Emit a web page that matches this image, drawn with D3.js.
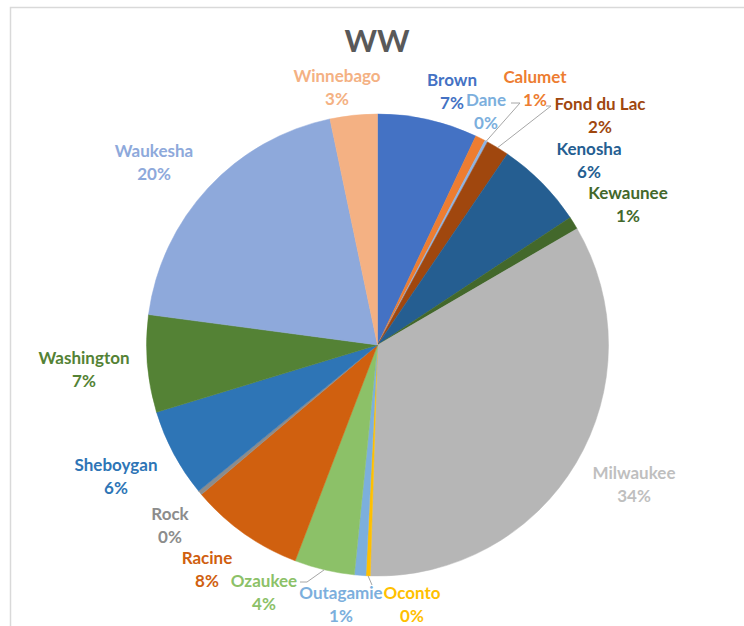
<!DOCTYPE html>
<html><head><meta charset="utf-8">
<script src="https://cdn.jsdelivr.net/npm/d3@7/dist/d3.min.js"></script>
<style>
html,body{margin:0;padding:0;background:#fff;}
svg{display:block;}
text{font-family:Lato,"Open Sans",sans-serif;font-weight:bold;}
</style></head>
<body>
<svg id="chart" width="744" height="626"></svg>
<script>
const title = "WW";
const categories = ["Brown","Calumet","Dane","Fond du Lac","Kenosha","Kewaunee","Milwaukee","Oconto","Outagamie","Ozaukee","Racine","Rock","Sheboygan","Washington","Waukesha","Winnebago"];
const values = [7.0,0.7,0.2,1.6,6.2,0.9,33.9,0.3,0.8,4.2,8.0,0.3,6.2,6.8,19.6,3.3];
const colors = ["#4472C4","#ED7D31","#8FB4E3","#A0470E","#255E91","#43682B","#B6B6B6","#FFC000","#7CAFDD","#8CC168","#D0600F","#8C8C8C","#2E75B6","#548235","#8EA9DB","#F4B183"];
const labelColors = ["#4472C4","#ED7D31","#7CAFDD","#A0470E","#255E91","#43682B","#BFBFBF","#FFC000","#7CAFDD","#8CC168","#D0600F","#8C8C8C","#2E75B6","#548235","#8EA9DB","#F4B183"];
// label anchor layout (centre of the two-line label)
const labelPos = [[452,89],[535,86],[486,109],[600,113],[589,158],[628,202],[634,482],[412,602],[341,602],[264,590],[207,567],[170,523],[116,474],[84,367],[154,160],[337,85]];
const leaders = {2:[[511,103],[520,103]],3:[[546,106],[551,106]],9:[[300,582],[307,582]],7:[[372,585],[372,585]]};

const svg = d3.select("#chart");
// chart frame
svg.append("path").attr("d","M10.5,626 V7.5 H744").attr("fill","none").attr("stroke","#D9D9D9").attr("stroke-width",1.5);

svg.append("text").attr("x",377).attr("y",52).attr("text-anchor","middle")
  .attr("font-size",31).attr("fill","#595959").text(title);

const cx = 377.5, cy = 345, R = 231;
const pie = d3.pie().sort(null).value(d=>d)(values);
const arc = d3.arc().innerRadius(0).outerRadius(R);
const g = svg.append("g").attr("transform",`translate(${cx},${cy})`);
g.selectAll("path.slice").data(pie).enter().append("path").attr("class","slice")
  .attr("d",arc).attr("fill",(d,i)=>colors[i]).attr("stroke",(d,i)=>colors[i]).attr("stroke-width",0.5);

// leader lines
Object.keys(leaders).forEach(k=>{
  const i = +k; const d = pie[i];
  const a = (d.startAngle+d.endAngle)/2;
  const ex = cx + R*Math.sin(a), ey = cy - R*Math.cos(a);
  const pts = leaders[k];
  const p = (i===7) ? [pts[0],[ex,ey]] : [pts[0],pts[1],[ex,ey]];
  svg.append("path").attr("d",d3.line()(p)).attr("fill","none").attr("stroke","#A6A6A6").attr("stroke-width",1);
});

const fmt = v => Math.round(v) + "%";
const lab = svg.append("g");
categories.forEach((c,i)=>{
  const [x,y] = labelPos[i];
  const t = lab.append("text").attr("x",x).attr("y",y).attr("text-anchor","middle")
    .attr("font-size",17).attr("fill",labelColors[i]);
  t.append("tspan").attr("x",x).attr("dy","-0.15em").text(c);
  t.append("tspan").attr("x",x).attr("dy","1.33em").text(fmt(values[i]));
});
</script>
</body></html>
